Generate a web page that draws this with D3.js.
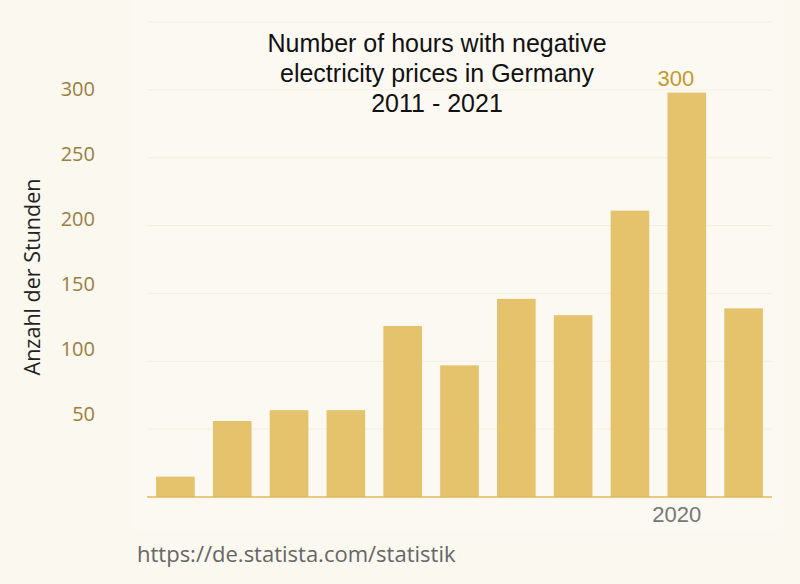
<!DOCTYPE html>
<html><head><meta charset="utf-8">
<script src="https://cdn.jsdelivr.net/npm/d3@7"></script>
<style>html,body{margin:0;padding:0;background:#fbf8f0;}svg{display:block;}</style>
</head><body><svg id="c" width="800" height="584"></svg>
<script>
const years = ["2011","2012","2013","2014","2015","2016","2017","2018","2019","2020","2021"];
const hours = [15, 56, 64, 64, 126, 97, 146, 134, 211, 298, 139];
const yTicks = [50, 100, 150, 200, 250, 300];
const gridTicks = [0, 50, 100, 150, 200, 250, 300, 350];
const shownYear = ["2020"];
const annotation = [{year: "2020", text: "300"}];
const titleLines = ["Number of hours with negative", "electricity prices in Germany", "2011 - 2021"];

const svg = d3.select("#c");
svg.append("rect").attr("width",800).attr("height",584).attr("fill","#fbf8f0");
svg.append("rect").attr("x",133).attr("y",0).attr("width",650).attr("height",530).attr("fill","#fcf9f3");

const x = d3.scaleBand().domain(years).range([147,772]).paddingInner(0.32).paddingOuter(0.16);
const y = d3.scaleLinear().domain([0,350]).range([497,22]);
const yLab = d3.scaleLinear().domain([0,300]).range([479,89]);

// grid
svg.append("g").selectAll("line").data(gridTicks.filter(d=>d>0)).join("line")
  .attr("x1",147).attr("x2",772).attr("y1",d=>y(d)).attr("y2",d=>y(d))
  .attr("stroke","#f5eedb").attr("stroke-width",1);

// bars
svg.append("g").selectAll("rect").data(years).join("rect")
  .attr("x",d=>x(d)).attr("width",x.bandwidth())
  .attr("y",(d,i)=>y(hours[i])).attr("height",(d,i)=>y(0)-y(hours[i]))
  .attr("fill","#e4c36c");

// baseline
svg.append("line").attr("x1",147).attr("x2",772).attr("y1",y(0)).attr("y2",y(0))
  .attr("stroke","#e3b75a").attr("stroke-width",1.5);

// y tick labels
svg.append("g").selectAll("text").data(yTicks).join("text")
  .attr("x",95).attr("y",d=>yLab(d)).attr("dy","0.35em").attr("text-anchor","end")
  .attr("font-family","'Open Sans', sans-serif").attr("font-size",20).attr("fill","#9a7f40")
  .text(d=>d);

// y title
svg.append("text").attr("transform","translate(40,277) rotate(-90)")
  .attr("text-anchor","middle").attr("font-family","'Open Sans', sans-serif")
  .attr("font-size",21.5).attr("fill","#222").text("Anzahl der Stunden");

// x label
svg.append("g").selectAll("text").data(shownYear).join("text")
  .attr("x",d=>x(d)+x.bandwidth()/2-10).attr("y",522).attr("text-anchor","middle")
  .attr("font-family","'Liberation Sans', Arial, sans-serif").attr("font-size",22).attr("fill","#777")
  .text(d=>d);

// annotation
svg.append("g").selectAll("text").data(annotation).join("text")
  .attr("x",d=>x(d.year)+x.bandwidth()/2-11).attr("y",d=>y(hours[years.indexOf(d.year)])-7)
  .attr("text-anchor","middle").attr("font-family","'Liberation Sans', Arial, sans-serif")
  .attr("font-size",22).attr("fill","#c49a2a").text(d=>d.text);

// title
svg.append("g").selectAll("text").data(titleLines).join("text")
  .attr("x",437).attr("y",(d,i)=>52+i*30).attr("text-anchor","middle")
  .attr("font-family","'Liberation Sans', Arial, sans-serif").attr("font-size",25).attr("fill","#111")
  .text(d=>d);

// source
svg.append("text").attr("x",137).attr("y",562)
  .attr("font-family","'Open Sans', sans-serif").attr("font-size",22).attr("fill","#666")
  .text("https://de.statista.com/statistik");
</script></body></html>
